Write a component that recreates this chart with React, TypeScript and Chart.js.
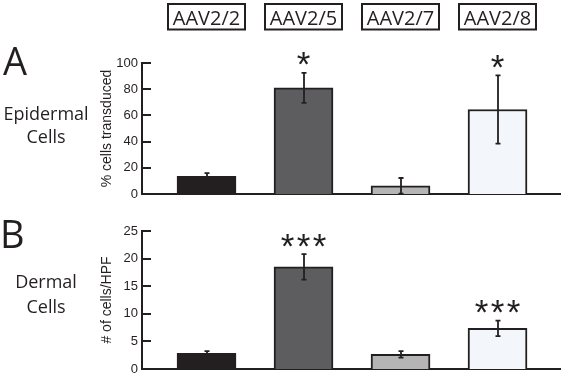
import { useEffect, useRef } from "react";
import { Chart, registerables } from "chart.js";

Chart.register(...registerables);

// ---- data ----
const categories = ["AAV2/2", "AAV2/5", "AAV2/7", "AAV2/8"];
const categoryPositions = [1, 2, 3, 4];

const epidermalValues = [13.5, 81, 6.2, 64.5];
const epidermalErrors = [2.5, 11.5, 6, 26];
const epidermalStars = ["", "*", "", "*"];
const epidermalTicks = { min: 0, max: 100, step: 20 };

const dermalValues = [2.85, 18.5, 2.65, 7.35];
const dermalErrors = [0.4, 2.3, 0.6, 1.4];
const dermalStars = ["", "***", "", "***"];
const dermalTicks = { min: 0, max: 25, step: 5 };

const barColors = ["#231f20", "#5d5d5f", "#b5b5b5", "#f3f7fb"];

// ---- styles ----
const INK = "#231f20";
const SANS = '"Open Sans", "Noto Sans", sans-serif';
const ARIAL = '"Liberation Sans", Arial, sans-serif';

type PanelSpec = {
  values: number[];
  errors: number[];
  stars: string[];
  ticks: { min: number; max: number; step: number };
  yTitle: string;
  padTop: number;
  padBottom: number;
  letter: string;
  letterBaseline: number;
  letterX: number;
  words: string[];
  wordBaselines: number[];
  header: boolean;
};

function overlay(spec: PanelSpec) {
  return {
    id: "overlay" + spec.letter,
    afterDatasetsDraw(chart: any) {
      const ctx: CanvasRenderingContext2D = chart.ctx;
      const xs = chart.scales.x;
      const ys = chart.scales.y;
      const area = chart.chartArea;
      ctx.save();
      // inward tick marks
      ctx.strokeStyle = INK;
      ctx.lineWidth = 2;
      ys.ticks.forEach((t: any) => {
        const py = Math.round(ys.getPixelForValue(t.value));
        ctx.beginPath();
        ctx.moveTo(area.left, py);
        ctx.lineTo(area.left + 9, py);
        ctx.stroke();
      });
      // error bars
      ctx.lineWidth = 1.8;
      spec.values.forEach((v, i) => {
        const px = Math.round(xs.getPixelForValue(categoryPositions[i]));
        const top = ys.getPixelForValue(v + spec.errors[i]);
        const bot = ys.getPixelForValue(Math.max(0, v - spec.errors[i]));
        ctx.beginPath();
        ctx.moveTo(px, top);
        ctx.lineTo(px, bot);
        ctx.moveTo(px - 2.5, top);
        ctx.lineTo(px + 2.5, top);
        ctx.moveTo(px - 2.5, bot);
        ctx.lineTo(px + 2.5, bot);
        ctx.stroke();
      });
      // significance stars
      ctx.fillStyle = INK;
      ctx.font = `35px ${ARIAL}`;
      ctx.textAlign = "center";
      ctx.textBaseline = "alphabetic";
      const m = ctx.measureText("*");
      const asc = m.actualBoundingBoxAscent;
      const desc = m.actualBoundingBoxDescent;
      spec.stars.forEach((s, i) => {
        if (!s) return;
        const px = xs.getPixelForValue(categoryPositions[i]);
        const top = ys.getPixelForValue(spec.values[i] + spec.errors[i]);
        const cy = top - 14;
        const baseline = cy - (desc - asc) / 2;
        const n = s.length;
        for (let k = 0; k < n; k++) {
          const ox = (k - (n - 1) / 2) * 16;
          ctx.fillText("*", px + ox, baseline);
        }
      });
      ctx.restore();
    },
    afterDraw(chart: any) {
      const ctx: CanvasRenderingContext2D = chart.ctx;
      const xs = chart.scales.x;
      ctx.save();
      ctx.fillStyle = INK;
      ctx.strokeStyle = INK;
      // panel letter
      ctx.textAlign = "left";
      ctx.textBaseline = "alphabetic";
      ctx.font = `38px ${SANS}`;
      ctx.fillText(spec.letter, spec.letterX, spec.letterBaseline);
      // row label
      ctx.textAlign = "center";
      ctx.font = `18px ${SANS}`;
      spec.words.forEach((w, i) => ctx.fillText(w, 46, spec.wordBaselines[i]));
      // header boxes
      if (spec.header) {
        ctx.lineWidth = 2;
        ctx.font = `20px ${SANS}`;
        categories.forEach((c, i) => {
          const cx = xs.getPixelForValue(categoryPositions[i]);
          ctx.strokeRect(Math.round(cx - 38.5), 4, 77, 25.5);
          ctx.fillText(c, cx, 24.5);
        });
      }
      ctx.restore();
    },
  };
}

function Panel({ spec, height }: { spec: PanelSpec; height: number }) {
  const ref = useRef<HTMLCanvasElement | null>(null);
  useEffect(() => {
    if (!ref.current) return;
    const chart = new Chart(ref.current, {
      type: "bar",
      data: {
        datasets: [
          {
            data: spec.values.map((v, i) => ({ x: categoryPositions[i], y: v })),
            backgroundColor: barColors,
            borderColor: INK,
            borderWidth: 2,
            barThickness: 59,
          } as any,
        ],
      },
      options: {
        animation: false,
        responsive: false,
        devicePixelRatio: 1,
        layout: { padding: { left: 95, right: 4, top: spec.padTop, bottom: spec.padBottom } },
        plugins: { legend: { display: false }, tooltip: { enabled: false } },
        scales: {
          x: {
            type: "linear",
            min: 0.335,
            max: 4.644,
            offset: false,
            grid: { display: false, drawTicks: false, offset: false },
            ticks: { display: false },
            border: { display: true, color: INK, width: 2 },
            afterFit: (scale: any) => {
              scale.height = 0;
              scale.paddingLeft = 0;
              scale.paddingRight = 0;
            },
          },
          y: {
            min: spec.ticks.min,
            max: spec.ticks.max,
            grid: { display: false, drawTicks: false },
            border: { display: true, color: INK, width: 2 },
            ticks: {
              stepSize: spec.ticks.step,
              padding: 4,
              color: INK,
              font: { family: ARIAL, size: 13 },
            },
            title: {
              display: true,
              text: spec.yTitle,
              color: INK,
              font: { family: ARIAL, size: 14 },
              padding: { top: 4, bottom: 4 },
            },
            afterFit: (scale: any) => {
              scale.width = 47;
              scale.paddingTop = 0;
              scale.paddingBottom = 0;
            },
          },
        },
      },
      plugins: [overlay(spec)],
    });
    return () => chart.destroy();
  }, [spec]);
  return <canvas ref={ref} width={564} height={height} style={{ display: "block" }} />;
}

const specA: PanelSpec = {
  values: epidermalValues,
  errors: epidermalErrors,
  stars: epidermalStars,
  ticks: epidermalTicks,
  yTitle: "% cells transduced",
  padTop: 63,
  padBottom: 6,
  letter: "A",
  letterX: 3,
  letterBaseline: 75,
  words: ["Epidermal", "Cells"],
  wordBaselines: [120, 143],
  header: true,
};

const specB: PanelSpec = {
  values: dermalValues,
  errors: dermalErrors,
  stars: dermalStars,
  ticks: dermalTicks,
  yTitle: "# of cells/HPF",
  padTop: 31,
  padBottom: 5,
  letter: "B",
  letterX: 0,
  letterBaseline: 47.7,
  words: ["Dermal", "Cells"],
  wordBaselines: [88, 112.5],
  header: false,
};

export default function App() {
  return (
    <div
      style={{
        position: "fixed",
        left: 0,
        top: 0,
        width: 564,
        height: 374,
        background: "#ffffff",
        overflow: "hidden",
      }}
    >
      <Panel spec={specA} height={200} />
      <Panel spec={specB} height={174} />
    </div>
  );
}
